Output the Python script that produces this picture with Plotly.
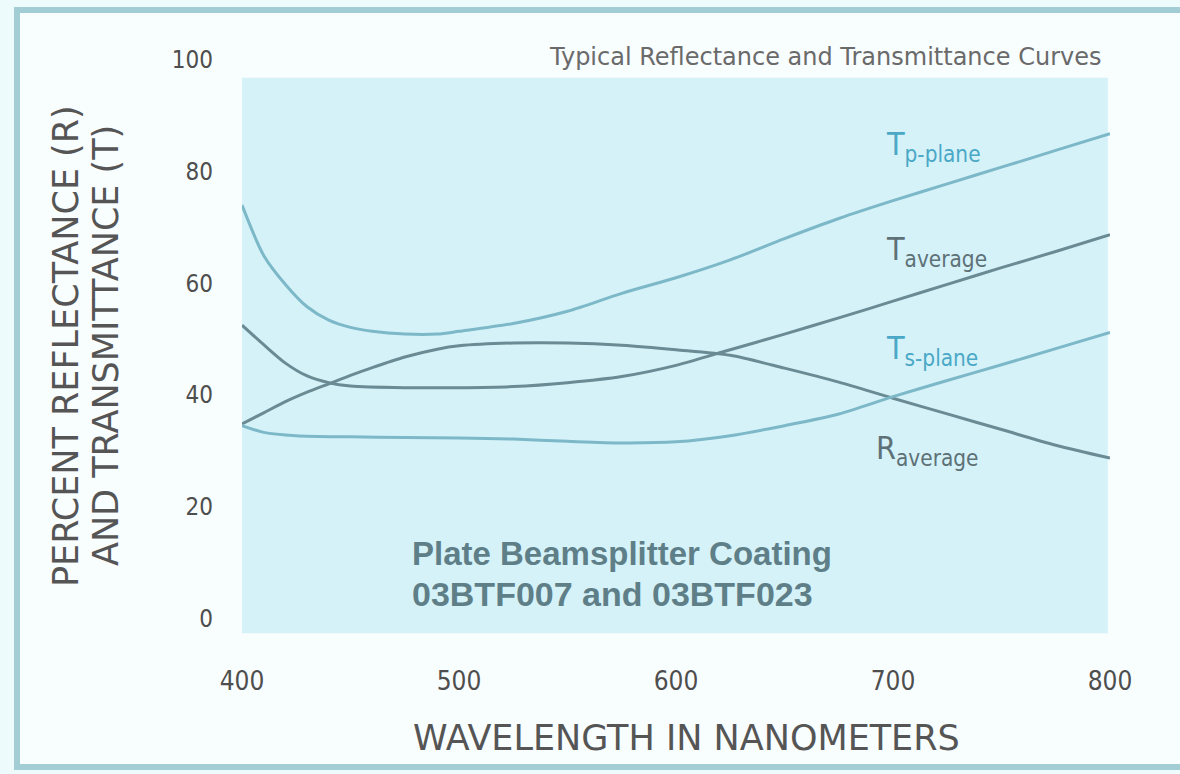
import plotly.graph_objects as go

# Wavelength grid (nm) and measured curves (%)
wl_tp = [400, 410, 420, 430, 440, 450, 460, 475, 490, 500, 525, 550, 575, 600,
         625, 650, 675, 700, 725, 750, 775, 800]
t_p_plane = [74.0, 65.0, 59.8, 55.8, 53.4, 52.1, 51.4, 50.9, 50.9, 51.4, 52.8,
             55.0, 58.2, 61.0, 64.2, 68.0, 71.6, 74.8, 77.8, 80.8, 83.8, 86.8]

wl_ta = [400, 410, 420, 430, 440, 450, 475, 500, 525, 550, 575, 600, 625, 650,
         675, 700, 725, 750, 775, 800]
t_average = [52.5, 49.0, 45.7, 43.4, 42.2, 41.6, 41.3, 41.3, 41.5, 42.2, 43.3,
             45.3, 48.1, 50.9, 53.8, 56.8, 59.8, 62.8, 65.7, 68.7]

wl_ra = [400, 410, 420, 430, 440, 450, 460, 475, 490, 500, 525, 550, 575, 600,
         625, 650, 675, 700, 725, 750, 775, 800]
r_average = [34.8, 36.8, 38.8, 40.5, 42.0, 43.5, 44.9, 46.8, 48.2, 48.8, 49.3,
             49.3, 48.9, 48.1, 47.1, 44.8, 42.3, 39.4, 36.6, 33.8, 31.0, 28.7]

wl_ts = [400, 410, 425, 450, 475, 500, 525, 550, 575, 600, 625, 650, 675, 700,
         725, 750, 775, 800]
t_s_plane = [34.5, 33.3, 32.7, 32.5, 32.4, 32.3, 32.1, 31.7, 31.4, 31.6, 32.7,
             34.5, 36.6, 39.7, 42.6, 45.4, 48.3, 51.2]

x_ticks = [400, 500, 600, 700, 800]
y_ticks = [0, 20, 40, 60, 80, 100]

W, H = 1180, 774
L, R, T, B = 242, 70, 60, 139
PW, PH = W - L - R, H - T - B


def px(xp):
    return (xp - L) / PW


def py(yp):
    return (H - B - yp) / PH


DARK = "#6a8b94"
TEAL = "#7cb8c7"

fig = go.Figure()

series = [
    (wl_tp, t_p_plane, TEAL, "T p-plane"),
    (wl_ta, t_average, DARK, "T average"),
    (wl_ra, r_average, DARK, "R average"),
    (wl_ts, t_s_plane, TEAL, "T s-plane"),
]
for xs, ys, col, name in series:
    fig.add_trace(go.Scatter(
        x=xs, y=ys, mode="lines", name=name,
        line=dict(color=col, width=3, shape="spline", smoothing=0.8),
        hoverinfo="skip", showlegend=False,
    ))

shapes = [
    # outer frame
    dict(type="rect", xref="paper", yref="paper",
         x0=px(17), x1=px(1184), y0=py(767), y1=py(10),
         line=dict(color="#a3cdd4", width=6), fillcolor="#f8fdfe", layer="below"),
    # shaded plotting field
    dict(type="rect", xref="x", yref="y", x0=400, x1=799, y0=-2.7, y1=96.8,
         line=dict(width=0), fillcolor="#d5f2f9", layer="below"),
]

narrow = "Liberation Sans Narrow, DejaVu Sans Condensed, Liberation Sans, sans-serif"
wide = "DejaVu Sans, Liberation Sans, sans-serif"
bold_face = "Liberation Sans, Arial, sans-serif"


def note(text, xp, yp, size, color, xanchor="left", angle=0, family=narrow):
    return dict(text=text, x=px(xp), y=py(yp), xref="paper", yref="paper",
                xanchor=xanchor, yanchor="middle", showarrow=False, textangle=angle,
                font=dict(family=family, size=size, color=color))


annotations = [
    note("Typical Reflectance and Transmittance Curves", 1103, 57, 24, "#6a6a6a",
         xanchor="right", family=wide),
    note("T<sub>p-plane</sub>", 884, 146, 32, "#4aa8c6"),
    note("T<sub>average</sub>", 884, 251, 32, "#5d7177"),
    note("T<sub>s-plane</sub>", 884, 350, 32, "#4aa8c6"),
    note("R<sub>average</sub>", 874, 450, 32, "#5d7177"),
    note("<b>Plate Beamsplitter Coating</b>", 410, 553, 33, "#5f7f88", family=bold_face),
    note("<b>03BTF007 and 03BTF023</b>", 410, 594, 34, "#5f7f88", family=bold_face),
    note("PERCENT REFLECTANCE (R)", 66, 346, 35, "#555555", xanchor="center",
         angle=-90, family=wide),
    note("AND TRANSMITTANCE (T)", 106, 346, 35, "#555555", xanchor="center",
         angle=-90, family=wide),
    note("WAVELENGTH IN NANOMETERS", 686, 738, 35, "#555555", xanchor="center",
         family=wide),
]

fig.update_layout(
    width=W, height=H,
    margin=dict(l=L, r=R, t=T, b=B, pad=0),
    paper_bgcolor="#eefbfd",
    plot_bgcolor="rgba(0,0,0,0)",
    shapes=shapes,
    annotations=annotations,
    xaxis=dict(range=[400, 800], tickvals=x_ticks, ticktext=[str(v) for v in x_ticks],
               showgrid=False, zeroline=False, showline=False, ticks="",
               ticklabelstandoff=28,
               tickfont=dict(family=narrow, size=26, color="#4e4e4e")),
    yaxis=dict(range=[-3, 100], tickvals=y_ticks, ticktext=[str(v) for v in y_ticks],
               showgrid=False, zeroline=False, showline=False, ticks="",
               ticklabelstandoff=28,
               tickfont=dict(family=narrow, size=24, color="#4e4e4e")),
)

fig.write_html("out.html")
